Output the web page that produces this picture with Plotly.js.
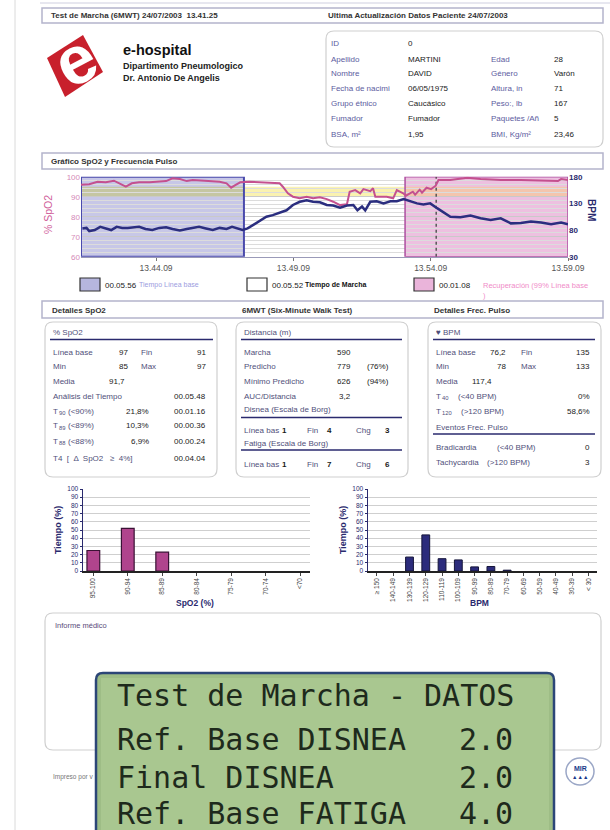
<!DOCTYPE html>
<html><head><meta charset="utf-8">
<script src="https://cdn.plot.ly/plotly-3.0.1.min.js"></script>
<style>html,body{margin:0;padding:0;background:#fff;}#chart{width:610px;height:830px;}</style>
</head><body><div id="chart"></div>
<script>
// ================= DATA =================
const testDate = '2003-07-24';
const spo2Time = ['13:41:25','13:41:43','13:42:01','13:42:19','13:42:37','13:42:52','13:43:03','13:43:16','13:43:32','13:43:55',
  '13:44:16','13:44:31','13:44:45','13:45:01','13:45:16','13:45:29','13:45:55','13:46:28','13:46:43','13:46:53',
  '13:47:02','13:47:13','13:47:33','13:48:03','13:48:39','13:48:46','13:48:57','13:49:08','13:49:23','13:49:38',
  '13:49:52','13:50:07','13:50:22','13:50:36','13:50:51','13:51:06','13:51:12','13:51:24','13:51:35','13:51:42',
  '13:51:57','13:52:03','13:52:08','13:52:33','13:52:47','13:52:55','13:53:09','13:53:15','13:53:30','13:53:35',
  '13:53:45','13:53:50','13:54:00','13:54:10','13:54:20','13:54:26','13:54:52','13:55:21','13:55:29','13:55:58',
  '13:56:42','13:57:26','13:58:10','13:58:47','13:58:54','13:59:09'];
const spo2Values = [96,96.2,97.5,97.2,98,96.5,95,96.7,97.2,97.2,
  97.5,97.8,99.2,98.8,97.8,98.3,98,97.5,96.7,94.5,
  95.8,97.2,97.5,97.2,96.7,95,91.7,90,89.2,90,
  89.2,89.7,88.8,87.5,85.8,86.2,92.5,93.3,91.7,93.8,
  92.8,94.2,90,90,89.2,93.3,91.7,90.5,92.5,91,
  93.5,92,94.5,93.8,95.5,98.3,98.3,99.2,99.5,98.8,
  98.3,98.3,98.2,97.8,98.8,98.4];
const bpmTime = ['13:41:28','13:41:37','13:41:43','13:41:55','13:42:07','13:42:19','13:42:31','13:42:43','13:42:55','13:43:07',
  '13:43:19','13:43:32','13:43:46','13:44:01','13:44:16','13:44:31','13:44:45','13:45:01','13:45:16','13:45:29',
  '13:45:43','13:45:58','13:46:13','13:46:28','13:46:43','13:46:55','13:47:07','13:47:18','13:47:29','13:47:40',
  '13:47:56','13:48:10','13:48:24','13:48:39','13:48:54','13:49:08','13:49:23','13:49:38','13:49:52','13:50:07',
  '13:50:22','13:50:36','13:50:51','13:51:06','13:51:20','13:51:29','13:51:39','13:51:46','13:51:57','13:52:11',
  '13:52:26','13:52:41','13:52:55','13:53:10','13:53:24','13:53:39','13:53:53','13:54:08','13:54:23','13:54:37',
  '13:54:52','13:55:14','13:55:36','13:55:58','13:56:20','13:56:42','13:57:04','13:57:26','13:57:48','13:58:10',
  '13:58:32','13:58:54','13:59:09'];
const bpmValues = [83,84,78,80,86,83,80,86,84,84,
  85,86,82,80,84,85,82,79,82,84,
  86,83,80,84,82,86,83,80,83,89,
  97,105,108,112,117,127,133,136,133,132,
  127,126,122,126,127,117,124,117,133,134,
  130,134,134,138,134,130,128,130,121,114,
  105,104,107,102,99,102,92.5,93,96,94,
  91,94,91];
const phaseBounds = ['13:41:25','13:47:21','13:53:13','13:54:21','13:59:09'];
const phaseDurations = ['00.05.56','00.05.52','00.01.08'];
const phaseNames = ['Tiempo Línea base','Tiempo de Marcha','Recuperación (99% Línea base'];
const spo2Band = [90,95];
const timeTickVals = ['13:44:09','13:49:09','13:54:09','13:59:09'];
const timeTickText = ['13.44.09','13.49.09','13.54.09','13.59.09'];
const spo2AxisTicks = [60,70,80,90,100];
const bpmAxisTicks = [30,80,130,180];
const spo2Bins = ['95-100','90-94','85-89','80-84','75-79','70-74','&lt;70'];
const spo2BinPct = [25,52,23,0,0,0,0];
const bpmBins = ['≥ 150','140-149','130-139','120-129','110-119','100-109','90-99','80-89','70-79','60-69','50-59','40-49','30-39','&lt; 30'];
const bpmBinPct = [0,0,17,44,15,13.5,5,5.5,1,0,0,0,0,0];

const patientLabels1 = ['ID','Apellido','Nombre','Fecha de nacimi','Grupo étnico','Fumador','BSA, m²'];
const patientValues1 = ['0','MARTINI','DAVID','06/05/1975','Caucásico','Fumador','1,95'];
const patientLabels2 = ['','Edad','Género','Altura, in','Peso:, lb','Paquetes /Añ','BMI, Kg/m²'];
const patientValues2 = ['','28','Varón','71','167','5','23,46'];
const lcdLabels = ['Ref. Base DISNEA','Final DISNEA','Ref. Base FATIGA'];
const lcdValues = ['2.0','2.0','4.0'];

// ================= HELPERS =================
const W = 610, H = 830;
const PX = x => x / W, PY = y => 1 - y / H;
const FONT = 'Liberation Sans, Arial, sans-serif';
const LBL = '#50507a', VAL = '#1a1a1a', NAVY = '#2a2a6e';
const ann = [], shp = [];
function T(x, y, text, o = {}) {
  if (text === '') return;
  ann.push({xref:'paper', yref:'paper', x:PX(x), y:PY(y), text:o.b ? '<b>' + text + '</b>' : text,
    showarrow:false, xanchor:o.a || 'left', yanchor:o.ya || 'middle', textangle:o.rot || 0, borderpad:0,
    font:{family:o.f || FONT, size:o.s || 8, color:o.c || VAL}});
}
// "T" with a subscript drawn as two texts
function TS(x, y, sub, o = {}) {
  T(x, y, 'T', o);
  T(x + 6, y + 2, sub, Object.assign({}, o, {s:5.8}));
}
function R(x0, y0, x1, y1, o = {}) {
  shp.push({type:'rect', xref:'paper', yref:'paper', x0:PX(x0), x1:PX(x1), y0:PY(y1), y1:PY(y0),
    line:{color:o.lc || '#999', width:o.lw === undefined ? 1 : o.lw}, fillcolor:o.fc || 'rgba(0,0,0,0)', layer:'above'});
}
function L(x0, y0, x1, y1, o = {}) {
  shp.push({type:'line', xref:'paper', yref:'paper', x0:PX(x0), x1:PX(x1), y0:PY(y0), y1:PY(y1),
    line:{color:o.lc || NAVY, width:o.lw || 1.5, dash:o.dash || 'solid'}, layer:'above'});
}
function P(pts) { return pts.map(p => PX(p[0]).toFixed(5) + ',' + PY(p[1]).toFixed(5)); }
function RR(x0, y0, x1, y1, r, o = {}) {
  const p = P([[x0+r,y0],[x1-r,y0],[x1,y0],[x1,y0+r],[x1,y1-r],[x1,y1],[x1-r,y1],[x0+r,y1],[x0,y1],[x0,y1-r],[x0,y0+r],[x0,y0],[x0+r,y0]]);
  const path = `M${p[0]} L${p[1]} Q${p[2]} ${p[3]} L${p[4]} Q${p[5]} ${p[6]} L${p[7]} Q${p[8]} ${p[9]} L${p[10]} Q${p[11]} ${p[12]} Z`;
  shp.push({type:'path', xref:'paper', yref:'paper', path, line:{color:o.lc || '#cfcfcf', width:o.lw || 1.2},
    fillcolor:o.fc || 'rgba(0,0,0,0)', layer:'above'});
}
const d = t => testDate + ' ' + t;

// ================= PAGE FRAME =================
L(15, 0, 15, 830, {lc:'#dadada', lw:1});
L(40, 3, 610, 3, {lc:'#cfcfe0', lw:1});
R(42, 8, 603, 23, {lc:'#b4b4cc', lw:1.5});
T(50, 15.5, 'Test de Marcha (6MWT) 24/07/2003  13.41.25', {b:1, c:'#333'});
T(327, 15.5, 'Ultima Actualización Datos Paciente 24/07/2003', {b:1, c:'#333'});

// logo
{
  const p = P([[83,35],[103,72],[65,97],[47,58]]);
  shp.push({type:'path', xref:'paper', yref:'paper', path:`M${p[0]} L${p[1]} L${p[2]} L${p[3]} Z`,
    fillcolor:'#c8202c', line:{width:0}, layer:'above'});
}
T(75, 60, 'e', {b:1, s:68, c:'#ffffff', a:'center', rot:-28});
T(122, 50, 'e-hospital', {b:1, s:14.5, c:'#111'});
T(122, 66.5, 'Dipartimento Pneumologico', {b:1, s:9, c:'#222'});
T(122, 77.5, 'Dr. Antonio De Angelis', {b:1, s:9, c:'#222'});

// patient box
RR(326, 31, 603, 147, 8);
const rowsY = [44, 59.5, 74, 89, 104, 119, 134];
rowsY.forEach((y, i) => {
  T(330, y, patientLabels1[i], {c:'#5c5ca0'});
  T(407, y, patientValues1[i]);
  T(490, y, patientLabels2[i], {c:'#5c5ca0'});
  T(553, y, patientValues2[i]);
});

// ================= TIME CHART =================
R(42, 153, 603, 169, {lc:'#b4b4cc', lw:1.5});
T(50, 161, 'Gráfico SpO2 y Frecuencia Pulso', {b:1, c:'#333'});

const xs = phaseBounds.map(d);
function ts(x0, x1, y0, y1, fill, line, layer) {
  shp.push({type:'rect', xref:'x', yref:'y', x0, x1, y0, y1, fillcolor:fill || 'rgba(0,0,0,0)',
    line:line || {width:0}, layer:layer || 'below'});
}
ts(xs[0], xs[1], 60, 100, '#c7c7e7');
ts(xs[2], xs[4], 60, 100, '#edc0e0');
ts(xs[0], xs[1], spo2Band[0], spo2Band[1], '#c5c6a2');
ts(xs[1], xs[2], spo2Band[0], spo2Band[1], '#faf2b0');
ts(xs[2], xs[4], spo2Band[0], spo2Band[1], '#f4c5ad');
ts(xs[0], xs[1], 60, 100, null, {color:'#4a4aac', width:2}, 'between');
ts(xs[2], xs[4], 60, 100, null, {color:'#ad4fa0', width:1.5}, 'between');
shp.push({type:'line', xref:'x', yref:'y', x0:xs[3], x1:xs[3], y0:60, y1:100,
  line:{color:'#444', width:1.3, dash:'dot'}, layer:'between'});

T(48, 215, '% SpO2', {s:10.5, c:'#d0609a', a:'center', rot:-90});
T(592, 210, 'BPM', {b:1, s:10, c:NAVY, a:'center', rot:90});

// legend of phases
const legX = [80, 247, 414];
const legFill = ['#b6b6de', '#ffffff', '#eab4da'];
const legNameCol = ['#9c9ce0', '#111', '#f08cc8'];
legX.forEach((x, i) => {
  R(x, 278, x + 20, 291, {fc:legFill[i], lc:'#333', lw:1.2});
  T(x + 24, 285, phaseDurations[i], {s:8, c:'#222'});
});
T(138, 285, phaseNames[0], {s:7, c:legNameCol[0]});
T(304, 285, phaseNames[1], {s:7, c:legNameCol[1], b:1});
T(482, 285, phaseNames[2], {s:7.5, c:legNameCol[2]});
T(482, 295, ')', {s:7.5, c:legNameCol[2]});

// ================= DETAILS =================
R(42, 301, 603, 318, {lc:'#b4b4cc', lw:1.5});
T(51, 310, 'Detalles SpO2', {b:1, c:'#333'});
T(241, 310, '6MWT (Six-Minute Walk Test)', {b:1, c:'#333'});
T(433, 310, 'Detalles Frec. Pulso', {b:1, c:'#333'});
RR(45, 322, 217, 477, 8);
RR(236, 322, 408, 477, 8);
RR(428, 322, 601, 477, 8);

// box 1
T(52, 332, '% SpO2', {c:LBL}); L(50, 339.5, 213, 339.5);
T(52, 352, 'Línea base', {c:LBL}); T(129, 352, '97', {a:'right'}); T(140, 352, 'Fin', {c:LBL}); T(207, 352, '91', {a:'right'});
T(52, 366.5, 'Min', {c:LBL}); T(129, 366.5, '85', {a:'right'}); T(140, 366.5, 'Max', {c:LBL}); T(207, 366.5, '97', {a:'right'});
T(52, 381, 'Media', {c:LBL}); T(126, 381, '91,7', {a:'right'});
T(52, 396, 'Análisis del Tiempo', {c:LBL}); T(207, 396, '00.05.48', {a:'right'});
TS(52, 411, '90', {c:LBL}); T(67, 411, '(&lt;90%)', {c:LBL}); T(150, 411, '21,8%', {a:'right'}); T(207, 411, '00.01.16', {a:'right'});
TS(52, 426, '89', {c:LBL}); T(67, 426, '(&lt;89%)', {c:LBL}); T(150, 426, '10,3%', {a:'right'}); T(207, 426, '00.00.36', {a:'right'});
TS(52, 441, '88', {c:LBL}); T(67, 441, '(&lt;88%)', {c:LBL}); T(150, 441, '6,9%', {a:'right'}); T(207, 441, '00.00.24', {a:'right'});
T(52, 458, 'T4  [  Δ  SpO2   ≥  4%]', {c:LBL}); T(207, 458, '00.04.04', {a:'right'});

// box 2
T(243, 332, 'Distancia (m)', {c:LBL}); L(241, 339.5, 402, 339.5);
T(243, 352, 'Marcha', {c:LBL}); T(352, 352, '590', {a:'right'});
T(243, 366.5, 'Predicho', {c:LBL}); T(352, 366.5, '779', {a:'right'}); T(366, 366.5, '(76%)');
T(243, 381, 'Mínimo Predicho', {c:LBL}); T(352, 381, '626', {a:'right'}); T(366, 381, '(94%)');
T(243, 396, 'AUC/Distancia', {c:LBL}); T(352, 396, '3,2', {a:'right'});
T(243, 410, 'Disnea (Escala de Borg)', {c:LBL}); L(241, 417.5, 402, 417.5);
T(243, 430, 'Línea bas', {c:LBL}); T(281, 430, '1', {b:1}); T(306, 430, 'Fin', {c:LBL}); T(326, 430, '4', {b:1}); T(355, 430, 'Chg', {c:LBL}); T(384, 430, '3', {b:1});
T(243, 443, 'Fatiga (Escala de Borg)', {c:LBL}); L(241, 450, 402, 450);
T(243, 464, 'Línea bas', {c:LBL}); T(281, 464, '1', {b:1}); T(306, 464, 'Fin', {c:LBL}); T(326, 464, '7', {b:1}); T(355, 464, 'Chg', {c:LBL}); T(384, 464, '6', {b:1});

// box 3
T(435, 332, '♥ BPM', {c:LBL}); L(433, 339.5, 595, 339.5);
T(435, 352, 'Línea base', {c:LBL}); T(507, 352, '76,2', {a:'right'}); T(520, 352, 'Fin', {c:LBL}); T(591, 352, '135', {a:'right'});
T(435, 366.5, 'Min', {c:LBL}); T(507, 366.5, '78', {a:'right'}); T(520, 366.5, 'Max', {c:LBL}); T(591, 366.5, '133', {a:'right'});
T(435, 381, 'Media', {c:LBL}); T(493, 381, '117,4', {a:'right'});
TS(435, 396, '40', {c:LBL}); T(457, 396, '(&lt;40 BPM)', {c:LBL}); T(591, 396, '0%', {a:'right'});
TS(435, 411, '120', {c:LBL}); T(460, 411, '(&gt;120 BPM)', {c:LBL}); T(591, 411, '58,6%', {a:'right'});
T(435, 427, 'Eventos Frec. Pulso', {c:LBL}); L(433, 434, 595, 434);
T(435, 447, 'Bradicardia', {c:LBL}); T(496, 447, '(&lt;40 BPM)', {c:LBL}); T(591, 447, '0', {a:'right'});
T(435, 462, 'Tachycardia', {c:LBL}); T(486, 462, '(&gt;120 BPM)', {c:LBL}); T(591, 462, '3', {a:'right'});

// ================= HISTOGRAM TITLES =================
T(58, 530, 'Tiempo (%)', {b:1, s:9, c:NAVY, a:'center', rot:-90});
T(343, 530, 'Tiempo (%)', {b:1, s:9, c:NAVY, a:'center', rot:-90});
T(195, 603, 'SpO2 (%)', {b:1, s:8.5, c:NAVY, a:'center'});
T(479, 603, 'BPM', {b:1, s:8.5, c:NAVY, a:'center'});

// ================= INFORME / FOOTER =================
RR(45, 613, 601, 750, 8);
T(54, 625, 'Informe médico', {s:7.5, c:'#5a4a7a'});
T(52, 777, 'Impreso por v', {s:6.5, c:'#777'});
shp.push({type:'circle', xref:'paper', yref:'paper', x0:PX(566), x1:PX(594), y0:PY(785), y1:PY(758),
  line:{color:'#9aa6c6', width:1.5}, fillcolor:'#fff', layer:'above'});
T(580, 768, 'MIR', {b:1, s:7, c:'#1a3a8a', a:'center'});
T(580, 777, '▲▲▲', {s:5.5, c:'#1a3a8a', a:'center'});

// LCD overlay
RR(96, 673, 554, 845, 7, {fc:'#9ebd86', lc:'#2c4677', lw:2.5});
R(101, 678, 549, 845, {fc:'#a9c790', lw:0});
const MONO = 'DejaVu Sans Mono, Liberation Mono, monospace';
T(116, 695, 'Test de Marcha - DATOS', {f:MONO, s:30, c:'#1e2a1c'});
const lcdY = [739, 777, 813];
lcdLabels.forEach((lab, i) => {
  T(116, lcdY[i], lab, {f:MONO, s:30, c:'#1e2a1c'});
  T(514, lcdY[i], lcdValues[i], {f:MONO, s:30, c:'#1e2a1c', a:'right'});
});

// ================= TRACES =================
const traces = [
  {type:'scatter', mode:'lines', x:spo2Time.map(d), y:spo2Values, xaxis:'x', yaxis:'y',
    line:{color:'#c4508f', width:2}, hoverinfo:'skip'},
  {type:'scatter', mode:'lines', x:bpmTime.map(d), y:bpmValues, xaxis:'x', yaxis:'y2',
    line:{color:'#2b2e7f', width:2.5}, hoverinfo:'skip'},
  {type:'bar', x:spo2Bins, y:spo2BinPct, xaxis:'x2', yaxis:'y3', width:0.37,
    marker:{color:'#b0448d', line:{color:'#3a1235', width:spo2BinPct.map(v => v > 0 ? 1.2 : 0)}}, hoverinfo:'skip'},
  {type:'bar', x:bpmBins, y:bpmBinPct, xaxis:'x3', yaxis:'y4', width:0.48,
    marker:{color:'#2c2c7c', line:{color:'#15153a', width:bpmBinPct.map(v => v > 0 ? 1 : 0)}}, hoverinfo:'skip'}
];

const histY = {range:[0,100], dtick:10, tick0:0, tickfont:{size:6.5, color:NAVY}, showline:true, linecolor:NAVY,
  linewidth:1.5, ticks:'outside', ticklen:2, tickcolor:NAVY, gridcolor:'#cfcfcf', zeroline:false, fixedrange:true};
const histX = {type:'category', categoryorder:'array', tickangle:-90, tickfont:{size:6.5, color:'#444'},
  showline:true, linecolor:'#222', linewidth:1.5, ticks:'outside', ticklen:3, tickcolor:'#444', showgrid:false, fixedrange:true};

const layout = {
  width:W, height:H, margin:{l:0, r:0, t:0, b:0}, autosize:false, showlegend:false,
  paper_bgcolor:'#ffffff', plot_bgcolor:'rgba(0,0,0,0)', font:{family:FONT},
  xaxis:{domain:[PX(81), PX(568)], anchor:'y', type:'date', range:[d(phaseBounds[0]), d(phaseBounds[4])],
    tickvals:timeTickVals.map(d), ticktext:timeTickText, ticks:'outside', ticklen:3, tickcolor:'#777',
    tickfont:{size:8.5, color:'#555'}, showgrid:false, showline:true, linecolor:'#9a9ab8', zeroline:false, fixedrange:true},
  yaxis:{domain:[PY(256.7), PY(176.7)], anchor:'x', range:[60,100], tickvals:spo2AxisTicks,
    tickfont:{size:8, color:'#d58ab8'}, showgrid:true, gridcolor:'#c9c9c9', gridwidth:1,
    minor:{dtick:2, showgrid:true, gridcolor:'#dcdcdc', gridwidth:1},
    zeroline:false, showline:false, ticks:'', fixedrange:true},
  yaxis2:{overlaying:'y', side:'right', anchor:'x', range:[30,180], tickvals:bpmAxisTicks,
    tickfont:{size:8, color:NAVY, weight:'bold'}, showgrid:false, zeroline:false, showline:false, ticks:'', fixedrange:true},
  xaxis2:Object.assign({}, histX, {domain:[PX(83), PX(310)], anchor:'y3', categoryarray:spo2Bins, range:[-0.3, 6.29]}),
  yaxis3:Object.assign({}, histY, {domain:[PY(571), PY(489)], anchor:'x2'}),
  xaxis3:Object.assign({}, histX, {domain:[PX(368), PX(597)], anchor:'y4', categoryarray:bpmBins, range:[-0.55, 13.52]}),
  yaxis4:Object.assign({}, histY, {domain:[PY(571), PY(489)], anchor:'x3'}),
  shapes:shp, annotations:ann
};

Plotly.newPlot('chart', traces, layout, {staticPlot:true, displayModeBar:false});
</script>
</body></html>
